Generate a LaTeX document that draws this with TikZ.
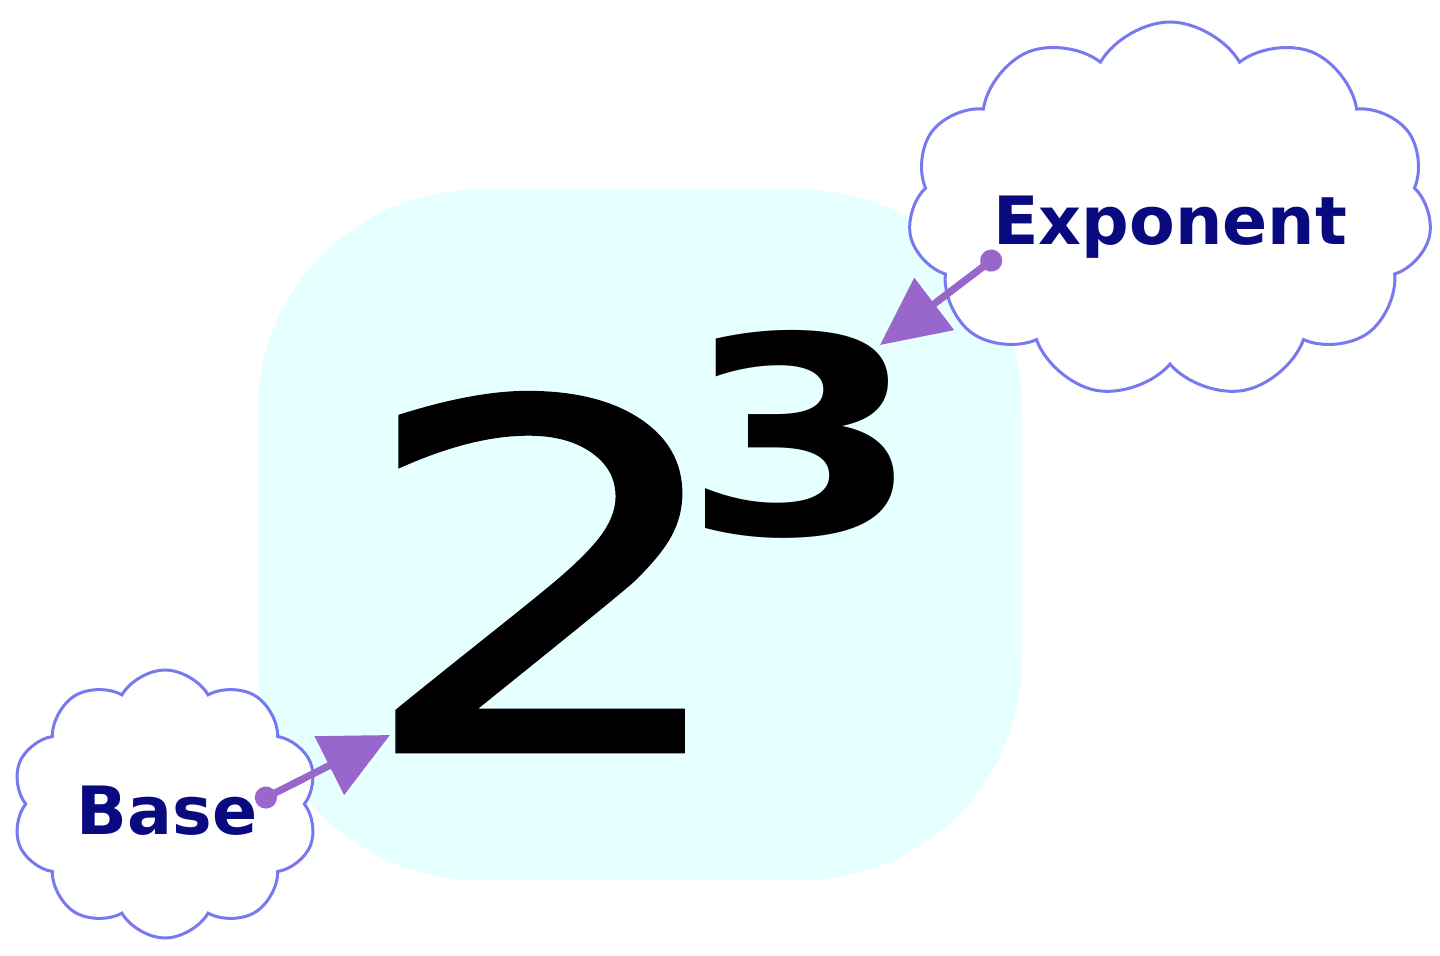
\documentclass[tikz,border=0pt]{standalone}
\usepackage{fontspec}
\setmainfont{DejaVu Sans}
\newfontfamily\digitfont[FakeBold=1]{DejaVu Sans}
\usetikzlibrary{shapes.symbols,arrows.meta}
\definecolor{bgcyan}{HTML}{E6FFFF}
\definecolor{cloudline}{HTML}{7878F0}
\definecolor{navy}{HTML}{0A0A80}
\definecolor{arrowpurple}{HTML}{9966CC}
\tikzset{
  puff/.style={cloud, cloud puffs=11, cloud puff arc=120, draw=cloudline, line width=1.5pt, fill=white, inner sep=0pt},
  label/.style={text=navy, font=\bfseries\fontsize{33.3}{36}\selectfont, inner sep=0pt},
  pointer/.style={draw=arrowpurple, line width=3.6pt, {Circle[length=11pt]}-{Triangle[length=34pt,width=32pt]}, shorten <=-5pt}
}
\begin{document}
\begin{tikzpicture}[x=0.5pt,y=-0.5pt]
\useasboundingbox (0,0) rectangle (1440,956);
\fill[bgcyan, rounded corners=110pt] (258,190) rectangle (1022,880);
\node[anchor=base west, inner sep=0pt, xscale=1.27, font=\digitfont\fontsize{241}{250}\selectfont] (two) at (353,751) {\makebox[\dimexpr\width-18pt][l]{2}};
\node[anchor=base west, inner sep=0pt, xscale=1.25, font=\bfseries\fontsize{137.5}{150}\selectfont] (three) at (702,535) {\makebox[\dimexpr\width-8pt][r]{3}};
\node[puff, minimum width=262pt, minimum height=188pt] (expcloud) at (1170,210) {};
\node[puff, cloud puffs=10, minimum width=153pt, minimum height=134pt] (basecloud) at (165,804) {};
\node[label] (exptext) at (1170,227) {Exponent};
\node[label] (basetext) at (167,811) {Base};
\coordinate (expdot) at (992,260);
\coordinate (exptip) at (880,345);
\coordinate (basedot) at (265,798);
\coordinate (basetip) at (390,735);
\draw[pointer] (expdot) -- (exptip);
\draw[pointer] (basedot) -- (basetip);
\end{tikzpicture}
\end{document}
